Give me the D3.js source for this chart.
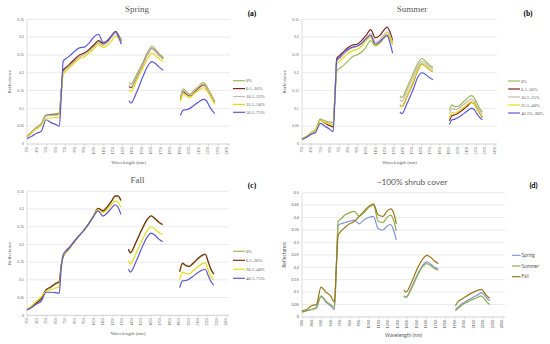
<!DOCTYPE html>
<html>
<head>
<meta charset="utf-8">
<script src="https://cdn.jsdelivr.net/npm/d3@7"></script>
<style>
    body { margin: 0; background: #fff; }
    svg { display: block; }
</style>
</head>
<body>
<div id="chart"></div>
<script>

// wavelengths (nm) shared by every curve; the gaps are the water absorption bands
var wavelengths = [350, 400, 450, 500, 550, 600, 650, 690, 710, 730, 760, 800, 850, 900, 950, 1000, 1050, 1100, 1150, 1200, 1240, 1280, 1310, 1340,
    1420, 1440, 1500, 1560, 1620, 1660, 1700, 1740, 1780,
    1960, 1990, 2020, 2060, 2100, 2150, 2200, 2230, 2260, 2290, 2320];

var xTicks = d3.range(350, 2451, 100);

// (a) spring
var springNames = ["0%", "0.1\u201310%", "10.1\u201335%", "35.1\u201350%", "50.1\u201375%"];
var spring0 = [0.022, 0.035, 0.047, 0.058, 0.082, 0.083, 0.085, 0.087, 0.15, 0.205, 0.212, 0.222, 0.235, 0.245, 0.252, 0.262, 0.275, 0.287, 0.28, 0.29, 0.303, 0.315, 0.305, 0.29,
    0.172, 0.168, 0.195, 0.225, 0.26, 0.275, 0.265, 0.252, 0.245,
    0.13, 0.155, 0.147, 0.14, 0.15, 0.162, 0.172, 0.165, 0.15, 0.135, 0.12];
var spring10 = [0.02, 0.033, 0.045, 0.055, 0.08, 0.081, 0.082, 0.084, 0.15, 0.207, 0.215, 0.225, 0.238, 0.25, 0.255, 0.265, 0.278, 0.29, 0.283, 0.292, 0.305, 0.316, 0.305, 0.29,
    0.162, 0.158, 0.188, 0.22, 0.255, 0.268, 0.26, 0.248, 0.24,
    0.125, 0.147, 0.14, 0.135, 0.145, 0.157, 0.166, 0.16, 0.145, 0.13, 0.117];
var spring35 = [0.021, 0.034, 0.045, 0.056, 0.079, 0.08, 0.081, 0.083, 0.148, 0.2, 0.21, 0.22, 0.232, 0.245, 0.252, 0.26, 0.272, 0.283, 0.277, 0.287, 0.3, 0.312, 0.302, 0.287,
    0.165, 0.16, 0.19, 0.22, 0.255, 0.27, 0.26, 0.248, 0.242,
    0.128, 0.15, 0.143, 0.137, 0.147, 0.16, 0.168, 0.162, 0.147, 0.132, 0.119];
var spring50 = [0.02, 0.032, 0.042, 0.052, 0.073, 0.073, 0.074, 0.075, 0.14, 0.195, 0.205, 0.215, 0.228, 0.24, 0.245, 0.255, 0.267, 0.278, 0.271, 0.278, 0.29, 0.303, 0.298, 0.285,
    0.152, 0.148, 0.178, 0.21, 0.242, 0.255, 0.248, 0.238, 0.232,
    0.12, 0.14, 0.135, 0.13, 0.14, 0.15, 0.158, 0.153, 0.14, 0.126, 0.112];
var spring75 = [0.015, 0.022, 0.03, 0.036, 0.068, 0.06, 0.055, 0.05, 0.14, 0.232, 0.24, 0.248, 0.26, 0.27, 0.272, 0.283, 0.3, 0.308, 0.285, 0.29, 0.305, 0.315, 0.3, 0.28,
    0.122, 0.115, 0.145, 0.185, 0.22, 0.231, 0.225, 0.215, 0.207,
    0.08, 0.095, 0.096, 0.1, 0.108, 0.118, 0.125, 0.122, 0.108, 0.095, 0.085];

// (b) summer
var summerNames = ["0%", "0.1\u201310%", "10.1\u201325%", "25.1\u201340%", "40.1%\u201380%"];
var summer0 = [0.015, 0.022, 0.032, 0.042, 0.07, 0.065, 0.062, 0.06, 0.13, 0.205, 0.212, 0.22, 0.232, 0.245, 0.25, 0.258, 0.272, 0.29, 0.275, 0.283, 0.295, 0.305, 0.295, 0.28,
    0.135, 0.13, 0.16, 0.195, 0.228, 0.24, 0.232, 0.222, 0.215,
    0.095, 0.11, 0.105, 0.106, 0.115, 0.127, 0.136, 0.13, 0.115, 0.1, 0.09];
var summer10 = [0.014, 0.02, 0.03, 0.038, 0.068, 0.058, 0.052, 0.048, 0.14, 0.24, 0.248, 0.258, 0.27, 0.278, 0.28, 0.29, 0.305, 0.321, 0.298, 0.305, 0.318, 0.328, 0.315, 0.29,
    0.11, 0.105, 0.135, 0.17, 0.21, 0.225, 0.218, 0.21, 0.203,
    0.065, 0.08, 0.082, 0.087, 0.095, 0.105, 0.117, 0.113, 0.1, 0.087, 0.075];
var summer25 = [0.015, 0.021, 0.031, 0.04, 0.068, 0.062, 0.058, 0.055, 0.135, 0.232, 0.24, 0.25, 0.262, 0.27, 0.273, 0.283, 0.298, 0.31, 0.285, 0.292, 0.305, 0.315, 0.305, 0.285,
    0.125, 0.12, 0.15, 0.187, 0.22, 0.232, 0.225, 0.217, 0.21,
    0.085, 0.1, 0.097, 0.1, 0.108, 0.118, 0.126, 0.12, 0.107, 0.095, 0.085];
var summer40 = [0.014, 0.021, 0.03, 0.039, 0.066, 0.06, 0.056, 0.053, 0.13, 0.225, 0.232, 0.242, 0.253, 0.262, 0.265, 0.275, 0.29, 0.3, 0.277, 0.285, 0.298, 0.31, 0.3, 0.28,
    0.11, 0.105, 0.135, 0.172, 0.21, 0.225, 0.218, 0.21, 0.203,
    0.072, 0.088, 0.087, 0.092, 0.1, 0.11, 0.118, 0.113, 0.1, 0.087, 0.077];
var summer80 = [0.013, 0.019, 0.027, 0.033, 0.058, 0.05, 0.042, 0.035, 0.13, 0.235, 0.243, 0.255, 0.265, 0.272, 0.275, 0.282, 0.295, 0.305, 0.28, 0.287, 0.298, 0.305, 0.285, 0.255,
    0.09, 0.085, 0.115, 0.15, 0.19, 0.2, 0.195, 0.187, 0.18,
    0.055, 0.068, 0.07, 0.075, 0.082, 0.092, 0.1, 0.097, 0.085, 0.075, 0.068];

// (c) fall
var fallNames = ["0%", "0.1\u201320%", "20.1\u201340%", "40.1\u201375%"];
var fall0 = [0.016, 0.025, 0.035, 0.048, 0.07, 0.078, 0.088, 0.092, 0.14, 0.165, 0.178, 0.19, 0.208, 0.225, 0.24, 0.258, 0.28, 0.3, 0.293, 0.305, 0.32, 0.335, 0.335, 0.322,
    0.185, 0.175, 0.205, 0.24, 0.27, 0.28, 0.272, 0.262, 0.255,
    0.122, 0.145, 0.14, 0.137, 0.145, 0.158, 0.168, 0.172, 0.15, 0.128, 0.115];
var fall20 = [0.016, 0.025, 0.035, 0.047, 0.072, 0.08, 0.09, 0.096, 0.14, 0.165, 0.178, 0.19, 0.208, 0.225, 0.24, 0.258, 0.28, 0.302, 0.295, 0.308, 0.322, 0.337, 0.337, 0.325,
    0.187, 0.177, 0.207, 0.242, 0.272, 0.281, 0.273, 0.263, 0.256,
    0.123, 0.147, 0.142, 0.138, 0.147, 0.16, 0.17, 0.173, 0.152, 0.13, 0.117];
var fall40 = [0.016, 0.027, 0.04, 0.052, 0.068, 0.072, 0.077, 0.08, 0.135, 0.168, 0.18, 0.192, 0.21, 0.225, 0.24, 0.258, 0.28, 0.298, 0.29, 0.3, 0.312, 0.322, 0.318, 0.305,
    0.155, 0.145, 0.175, 0.21, 0.24, 0.25, 0.243, 0.234, 0.228,
    0.1, 0.122, 0.118, 0.117, 0.125, 0.137, 0.146, 0.148, 0.128, 0.11, 0.1];
var fall75 = [0.015, 0.022, 0.032, 0.04, 0.065, 0.065, 0.064, 0.062, 0.13, 0.17, 0.182, 0.193, 0.21, 0.225, 0.24, 0.258, 0.278, 0.295, 0.28, 0.29, 0.302, 0.312, 0.305, 0.285,
    0.13, 0.122, 0.152, 0.19, 0.222, 0.232, 0.226, 0.215, 0.208,
    0.078, 0.097, 0.098, 0.102, 0.11, 0.12, 0.128, 0.13, 0.113, 0.095, 0.085];

// (d) ~100% shrub cover
var shrubNames = ["Spring", "Summer", "Fall"];
var shrubSpring = [0.02, 0.025, 0.03, 0.035, 0.083, 0.06, 0.045, 0.03, 0.2, 0.37, 0.375, 0.38, 0.385, 0.39, 0.375, 0.39, 0.4, 0.405, 0.355, 0.35, 0.365, 0.372, 0.35, 0.31,
    0.083, 0.08, 0.12, 0.17, 0.21, 0.222, 0.213, 0.2, 0.193,
    0.03, 0.04, 0.05, 0.06, 0.07, 0.08, 0.09, 0.098, 0.09, 0.075, 0.065];
var shrubSummer = [0.02, 0.025, 0.03, 0.04, 0.085, 0.065, 0.05, 0.04, 0.2, 0.385, 0.395, 0.41, 0.42, 0.425, 0.405, 0.42, 0.44, 0.45, 0.385, 0.38, 0.4, 0.41, 0.39, 0.345,
    0.085, 0.078, 0.115, 0.165, 0.205, 0.215, 0.207, 0.195, 0.188,
    0.025, 0.035, 0.045, 0.055, 0.063, 0.072, 0.08, 0.085, 0.075, 0.06, 0.05];
var shrubFall = [0.025, 0.03, 0.045, 0.05, 0.12, 0.1, 0.085, 0.06, 0.2, 0.33, 0.345, 0.36, 0.375, 0.385, 0.405, 0.425, 0.445, 0.455, 0.41, 0.405, 0.425, 0.435, 0.42, 0.375,
    0.108, 0.1, 0.14, 0.195, 0.235, 0.248, 0.24, 0.225, 0.215,
    0.045, 0.063, 0.07, 0.08, 0.09, 0.1, 0.108, 0.111, 0.1, 0.085, 0.075];

var coverColors = ["#9bbb59", "#7d2418", "#c9b8b8", "#e8dc10", "#5a5ad2"];
var fallColors = ["#9bbb59", "#7a2e14", "#e8dc10", "#5a5ad2"];
var shrubColors = ["#8093d6", "#8fb04c", "#9c7616"];

var w = 550;
var h = 344;

var svg = d3.select("#chart").append("svg").attr("width", w).attr("height", h);

// split one series into its three measured pieces
function pieces(values) {
    var out = [];
    var cur = [];
    for (var i = 0; i < wavelengths.length; i++) {
        if (i > 0 && wavelengths[i] - wavelengths[i - 1] > 60) {
            out.push(cur);
            cur = [];
        }
        cur.push([wavelengths[i], values[i]]);
    }
    out.push(cur);
    return out;
}

function panel(p) {
    var g = svg.append("g");
    var font = p.font;

    var xScale = d3.scaleLinear().domain([350, 2480]).range([p.left, p.right]);
    var yScale = d3.scaleLinear().domain([0, p.ymax]).range([p.bottom, p.top]);
    var yTicks = d3.range(0, p.ymax + 0.0001, 0.05);

    //gridlines
    g.selectAll(".grid").data(yTicks.slice(1)).enter().append("line")
        .attr("x1", p.left).attr("x2", p.right)
        .attr("y1", function (d) { return yScale(d); })
        .attr("y2", function (d) { return yScale(d); })
        .attr("stroke", "#dcdcdc").attr("stroke-width", 0.6);

    g.append("line").attr("x1", p.left).attr("x2", p.left)
        .attr("y1", p.top).attr("y2", p.bottom)
        .attr("stroke", "#c8c8c8").attr("stroke-width", 0.6);

    //y tick labels
    g.selectAll(".ylab").data(yTicks).enter().append("text")
        .attr("x", p.left - 3)
        .attr("y", function (d) { return yScale(d) + 1.3; })
        .attr("text-anchor", "end")
        .attr("font-family", font).attr("font-size", "3.8px").attr("fill", "#595959")
        .text(function (d) { return d === 0 ? "0" : d3.format(".2~f")(d); });

    //x axis
    var xAxis = d3.axisBottom(xScale).tickValues(xTicks).tickSize(1.8).tickFormat("");
    var ax = g.append("g").attr("transform", "translate(0," + p.bottom + ")").call(xAxis);
    ax.select(".domain").attr("stroke", "#bdbdbd").attr("stroke-width", 0.7)
        .attr("d", "M" + p.left + ",0H" + p.right);
    ax.selectAll(".tick line").attr("stroke", "#bdbdbd").attr("stroke-width", 0.6);

    g.selectAll(".xlab").data(xTicks).enter().append("text")
        .attr("transform", function (d) {
            return "translate(" + (xScale(d) + 1.3) + "," + (p.bottom + 2.8) + ") rotate(-90)";
        })
        .attr("text-anchor", "end")
        .attr("font-family", font).attr("font-size", "3.8px").attr("fill", "#595959")
        .text(function (d) { return d; });

    //axis titles
    g.append("text").attr("x", (p.left + p.right) / 2).attr("y", p.bottom + 20)
        .attr("text-anchor", "middle").attr("font-family", font).attr("font-size", "5px").attr("fill", "#595959")
        .text("Wavelength (nm)");
    g.append("text")
        .attr("transform", "translate(" + (p.left - 16) + "," + ((p.top + p.bottom) / 2) + ") rotate(-90)")
        .attr("text-anchor", "middle").attr("font-family", font).attr("font-size", "5px").attr("fill", "#595959")
        .text("Reflectance");

    //titles
    g.append("text").attr("x", p.titleX).attr("y", p.titleY)
        .attr("text-anchor", "middle").attr("font-family", font).attr("font-size", p.titleSize).attr("fill", "#595959")
        .text(p.title);
    g.append("text").attr("x", p.letterX).attr("y", p.letterY)
        .attr("text-anchor", "middle").attr("font-family", font).attr("font-size", "7.5px")
        .attr("font-weight", "bold").attr("fill", "#000")
        .text(p.letter);

    //curves
    var line = d3.line()
        .x(function (d) { return xScale(d[0]); })
        .y(function (d) { return yScale(d[1]); })
        .curve(d3.curveMonotoneX);

    p.series.forEach(function (s, i) {
        g.selectAll(null).data(pieces(s)).enter().append("path")
            .attr("d", line)
            .attr("fill", "none")
            .attr("stroke", p.colors[i])
            .attr("stroke-width", 1.2)
            .attr("stroke-linejoin", "round");
    });

    //legend
    var leg = g.selectAll(".leg").data(p.names).enter().append("g")
        .attr("transform", function (d, i) {
            return "translate(" + p.legX + "," + (p.legY + i * p.legStep) + ")";
        });
    leg.append("line").attr("x1", 0).attr("x2", p.legLen).attr("y1", 0).attr("y2", 0)
        .attr("stroke", function (d, i) { return p.colors[i]; })
        .attr("stroke-width", 1.2);
    leg.append("text").attr("x", p.legLen + 1).attr("y", 1.6)
        .attr("font-family", font).attr("font-size", p.legSize).attr("fill", "#595959")
        .text(function (d) { return d; });
}

var serif = "'Liberation Serif', 'DejaVu Serif', serif";
var sans = "Lato, 'Open Sans', sans-serif";

panel({
    left: 27, right: 230, top: 19.3, bottom: 144, ymax: 0.35, font: serif,
    title: "Spring", titleX: 137, titleY: 11.5, titleSize: "9px", letter: "(a)", letterX: 252, letterY: 15.5,
    series: [spring0, spring10, spring35, spring50, spring75], names: springNames, colors: coverColors,
    legX: 233, legY: 80.7, legStep: 7.9, legLen: 12, legSize: "4.6px"
});

panel({
    left: 302, right: 497, top: 19.3, bottom: 144, ymax: 0.35, font: serif,
    title: "Summer", titleX: 412, titleY: 11.5, titleSize: "9px", letter: "(b)", letterX: 528, letterY: 15.5,
    series: [summer0, summer10, summer25, summer40, summer80], names: summerNames, colors: coverColors,
    legX: 508, legY: 81, legStep: 8, legLen: 12, legSize: "4.6px"
});

panel({
    left: 27, right: 229, top: 191.3, bottom: 315.3, ymax: 0.35, font: serif,
    title: "Fall", titleX: 137.5, titleY: 183, titleSize: "9px", letter: "(c)", letterX: 252, letterY: 187.5,
    series: [fall0, fall20, fall40, fall75], names: fallNames, colors: fallColors,
    legX: 233, legY: 251.3, legStep: 9, legLen: 12, legSize: "4.6px"
});

panel({
    left: 302, right: 505, top: 192.7, bottom: 317, ymax: 0.5, font: sans,
    title: "~100% shrub cover", titleX: 412, titleY: 185, titleSize: "8.3px", letter: "(d)", letterX: 533.5, letterY: 188,
    series: [shrubSpring, shrubSummer, shrubFall], names: shrubNames, colors: shrubColors,
    legX: 512, legY: 255.3, legStep: 10.7, legLen: 8.5, legSize: "4.8px"
});

</script>
</body>
</html>
